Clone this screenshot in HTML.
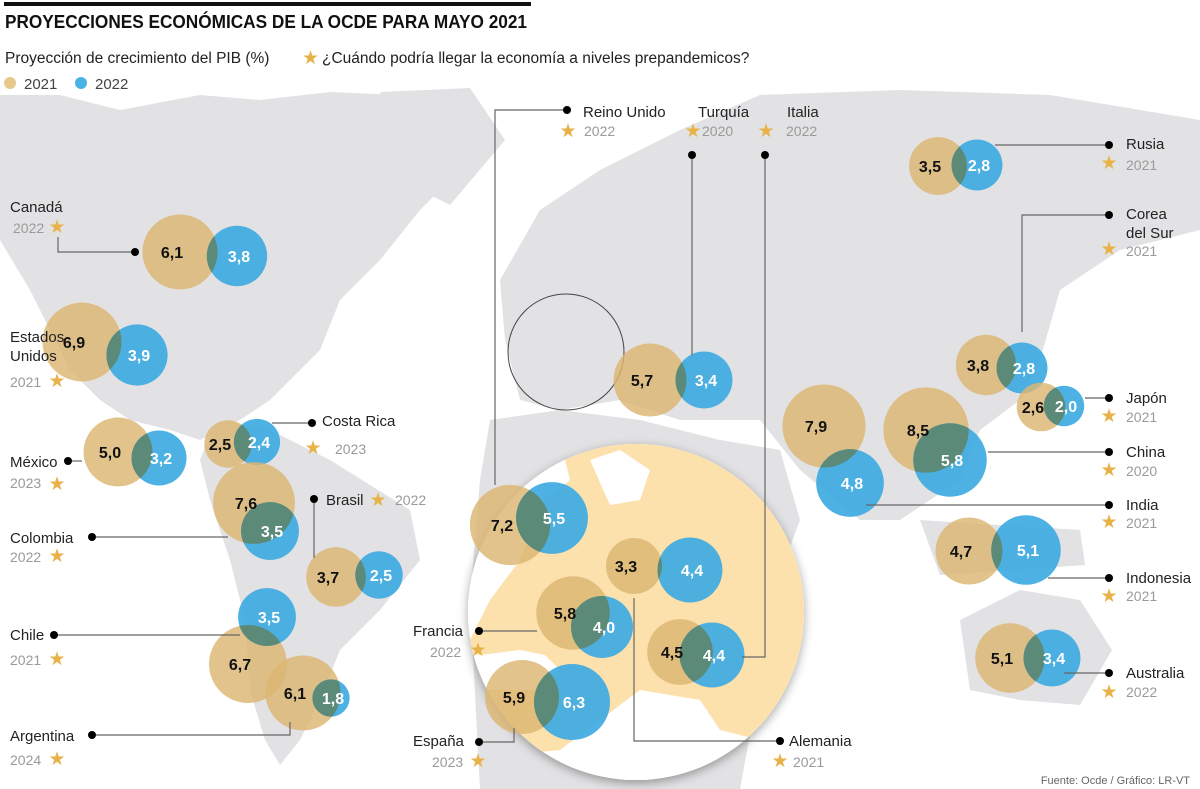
<!DOCTYPE html>
<html><head><meta charset="utf-8">
<style>
html,body{margin:0;padding:0;background:#fff;}
svg{display:block;font-family:"Liberation Sans",sans-serif;}
.nm{font-size:15px;fill:#222;}
.yr{font-size:14px;fill:#9a9a9a;}
.ld{stroke:#666;stroke-width:1.2;fill:none;}
.vl{font-size:16px;font-weight:bold;text-anchor:middle;}
</style></head>
<body>
<svg id="chart" width="1200" height="789" viewBox="0 0 1200 789">
<defs>
 <filter id="sh" x="-20%" y="-20%" width="140%" height="140%"><feDropShadow dx="0" dy="3" stdDeviation="5" flood-color="#000" flood-opacity="0.35"/></filter>
 <clipPath id="mag"><circle cx="636" cy="612" r="168"/></clipPath>
</defs>
<g fill="#e2e2e4">
 <polygon points="0,95 60,95 120,110 200,95 260,100 330,92 400,95 480,110 470,160 420,210 380,260 340,300 320,350 290,380 270,400 240,420 200,440 170,430 130,420 100,400 70,370 50,330 30,290 0,240"/>
 <polygon points="380,92 470,88 505,140 450,205 400,180"/>
 <polygon points="215,420 270,430 330,460 410,510 420,560 380,610 340,650 320,700 300,740 280,765 265,740 250,690 245,620 230,560 210,500 200,460"/>
 <polygon points="500,280 540,210 600,170 680,130 760,95 900,90 1050,95 1200,120 1200,230 1120,250 1060,290 1040,360 1020,400 980,430 960,480 900,520 860,520 800,470 760,420 720,420 680,420 620,400 560,410 520,400 505,340"/>
 <polygon points="490,420 560,410 640,420 720,440 780,450 800,520 770,600 760,680 740,789 480,789 470,600 480,480"/>
 <polygon points="920,520 1080,530 1085,565 940,575"/>
 <polygon points="960,620 1020,590 1080,600 1112,650 1080,705 1020,700 970,690"/>
</g>
<circle cx="566" cy="352" r="58" fill="none" stroke="#444" stroke-width="1"/>
<g>
 <circle cx="636" cy="612" r="168" fill="#fff" filter="url(#sh)"/>
 <g clip-path="url(#mag)">
  <rect x="460" y="440" width="360" height="350" fill="#fde1ad"/>
  <polygon fill="#fff" points="460,440 560,440 570,480 545,500 520,560 490,600 470,640 460,650"/>
  <polygon fill="#fff" points="460,650 480,655 520,650 545,655 560,670 540,690 460,690"/>
  <polygon fill="#fff" points="600,720 640,690 700,700 720,730 760,740 820,745 820,790 460,790 460,760 560,750"/>
  <polygon fill="#fff" points="590,460 620,450 650,470 640,500 610,505"/>
 </g>
</g>
<g id="bubbles"></g>
<g id="labels"></g>

<rect x="4" y="2" width="527" height="4" fill="#111"/>
<text x="5" y="28" font-size="18" font-weight="bold" fill="#111" textLength="522" lengthAdjust="spacingAndGlyphs">PROYECCIONES ECONÓMICAS DE LA OCDE PARA MAYO 2021</text>
<text x="5" y="63" font-size="15.5" fill="#222">Proyección de crecimiento del PIB (%)</text>
<text x="302" y="64" font-size="19" fill="#e8b24a">★</text>
<text x="322" y="63" font-size="15.5" fill="#222">¿Cuándo podría llegar la economía a niveles prepandemicos?</text>
<circle cx="10" cy="83" r="6" fill="#e8c98c"/>
<text x="24" y="89" font-size="15" fill="#444">2021</text>
<circle cx="81" cy="83" r="6" fill="#4ab3e6"/>
<text x="95" y="89" font-size="15" fill="#444">2022</text>
<text x="1190" y="784" font-size="11" fill="#666" text-anchor="end">Fuente: Ocde  / Gráfico: LR-VT</text>
</svg>
<script>
const countries = ["Canadá","Estados Unidos","México","Costa Rica","Colombia","Brasil","Chile","Argentina","Reino Unido","Turquía","Alemania","Francia","Italia","España","Rusia","Corea del Sur","Japón","China","India","Indonesia","Australia"];
const v2021 = [6.1,6.9,5.0,2.5,7.6,3.7,6.7,6.1,7.2,5.7,3.3,5.8,4.5,5.9,3.5,3.8,2.6,8.5,7.9,4.7,5.1];
const v2022 = [3.8,3.9,3.2,2.4,3.5,2.5,3.5,1.8,5.5,3.4,4.4,4.0,4.4,6.3,2.8,2.8,2.0,5.8,4.8,5.1,3.4];
const recovery = ["2022","2021","2023","2023","2022","2022","2021","2024","2022","2020","2021","2022","2022","2023","2021","2021","2021","2020","2021","2021","2022"];
// layout (anchor positions on map)
const goldPos = [[180,252],[82,342],[118,452],[228,444],[254,503],[336,577],[248,664],[303,693],[510,525],[650,380],[634,566],[573,613],[680,652],[522,697],[938,166],[986,365],[1041,407],[926,430],[824,426],[969,551],[1010,658]];
const bluePos = [[237,256],[137,355],[159,458],[257,442],[270,531],[379,575],[267,617],[331,698],[552,518],[704,380],[690,570],[602,627],[712,655],[572,702],[977,165],[1022,368],[1064,406],[950,460],[850,483],[1026,550],[1052,658]];
function rScale(v){return 9.5+15.5*Math.log(v);}
function fmt(v){return v.toFixed(1).replace('.',',');}
const NS="http://www.w3.org/2000/svg";
function mk(tag,attrs,parent){const e=document.createElementNS(NS,tag);for(const k in attrs)e.setAttribute(k,attrs[k]);parent.appendChild(e);return e;}
const bub=document.getElementById('bubbles');
const defs=document.querySelector('defs');
countries.forEach((c,i)=>{
  const slug=c.toLowerCase().normalize('NFD').replace(/[\u0300-\u036f]/g,'').replace(/\s+/g,'-');
  const rg=rScale(v2021[i]), rb=rScale(v2022[i]);
  const [gx,gy]=goldPos[i],[bx,by]=bluePos[i];
  const cp=mk('clipPath',{id:'cp'+i},defs);
  mk('circle',{cx:gx,cy:gy,r:rg},cp);
  const g=mk('circle',{cx:gx,cy:gy,r:rg,fill:'#dcb673','fill-opacity':0.82},bub);
  
  
  const b=mk('circle',{cx:bx,cy:by,r:rb,fill:'#3eaae2','fill-opacity':0.92},bub);
  
  
  const o=mk('circle',{cx:bx,cy:by,r:rb,fill:'#5c8a79','clip-path':'url(#cp'+i+')'},bub);
  
  
  const dx=(gx<bx)?-8:0;
  const t1=mk('text',{x:gx+dx,y:gy+6,class:'vl',fill:'#111'},bub);t1.textContent=fmt(v2021[i]);
  
  
  const t2=mk('text',{x:bx+2,y:by+6,class:'vl',fill:'#fff'},bub);t2.textContent=fmt(v2022[i]);
  
  
});
// labels: name lines, name pos, year pos, star pos, leader polyline, dot
const lab = [
 [["Canadá"],[10,212],[13,233],[57,227],"58,237 58,252 135,252",[135,252]],
 [["Estados","Unidos"],[10,342],[10,387],[57,381],null,null],
 [["México"],[10,467],[10,488],[57,484],"68,461 82,461",[68,461]],
 [["Costa Rica"],[322,426],[335,454],[313,448],"312,423 272,423",[312,423]],
 [["Colombia"],[10,543],[10,562],[57,556],"92,537 228,537",[92,537]],
 [["Brasil"],[326,505],[395,505],[378,500],"314,499 314,558",[314,499]],
 [["Chile"],[10,640],[10,665],[57,659],"54,635 240,635",[54,635]],
 [["Argentina"],[10,741],[10,765],[57,759],"92,735 290,735 290,722",[92,735]],
 [["Reino Unido"],[583,117],[584,136],[568,131],"567,110 495,110 495,485",[567,110]],
 [["Turquía"],[698,117],[702,136],[693,131],"692,155 692,355",[692,155]],
 [["Alemania"],[789,746],[793,767],[780,761],"780,741 634,741 634,598",[780,741]],
 [["Francia"],[413,636],[430,657],[478,650],"479,631 537,631",[479,631]],
 [["Italia"],[787,117],[786,136],[766,131],"765,155 765,657 742,657",[765,155]],
 [["España"],[413,746],[432,767],[478,761],"479,742 514,742 514,728",[479,742]],
 [["Rusia"],[1126,149],[1126,170],[1109,163],"1109,145 995,145",[1109,145]],
 [["Corea","del Sur"],[1126,219],[1126,256],[1109,249],"1109,215 1022,215 1022,332",[1109,215]],
 [["Japón"],[1126,403],[1126,422],[1109,416],"1109,398 1085,398",[1109,398]],
 [["China"],[1126,457],[1126,476],[1109,470],"1109,452 988,452",[1109,452]],
 [["India"],[1126,510],[1126,528],[1109,522],"1109,505 866,505",[1109,505]],
 [["Indonesia"],[1126,583],[1126,601],[1109,596],"1109,578 1048,578",[1109,578]],
 [["Australia"],[1126,678],[1126,697],[1109,692],"1109,673 1064,673",[1109,673]]
];
const L=document.getElementById('labels');
lab.forEach((l,j)=>{
  const c=l[0].join(' ');
  const i=countries.indexOf(c);
  const slug=c.toLowerCase().normalize('NFD').replace(/[\u0300-\u036f]/g,'').replace(/\s+/g,'-');
  if(l[4]){const p=mk('polyline',{points:l[4],class:'ld'},L);
    
    
    const d=mk('circle',{cx:l[5][0],cy:l[5][1],r:4,fill:'#000'},L);
    
    }
  const t=mk('text',{x:l[1][0],y:l[1][1],class:'nm'},L);
  
  
  l[0].forEach((s,k)=>{const ts=mk('tspan',{x:l[1][0],dy:k?19:0},t);ts.textContent=s;});
  const s=mk('text',{x:l[3][0],y:l[3][1]+6,'font-size':19,fill:'#e8b24a','text-anchor':'middle'},L);s.textContent='★';
  
  
  const y=mk('text',{x:l[2][0],y:l[2][1],class:'yr'},L);y.textContent=recovery[i];
  
  
});
</script>
</body></html>
